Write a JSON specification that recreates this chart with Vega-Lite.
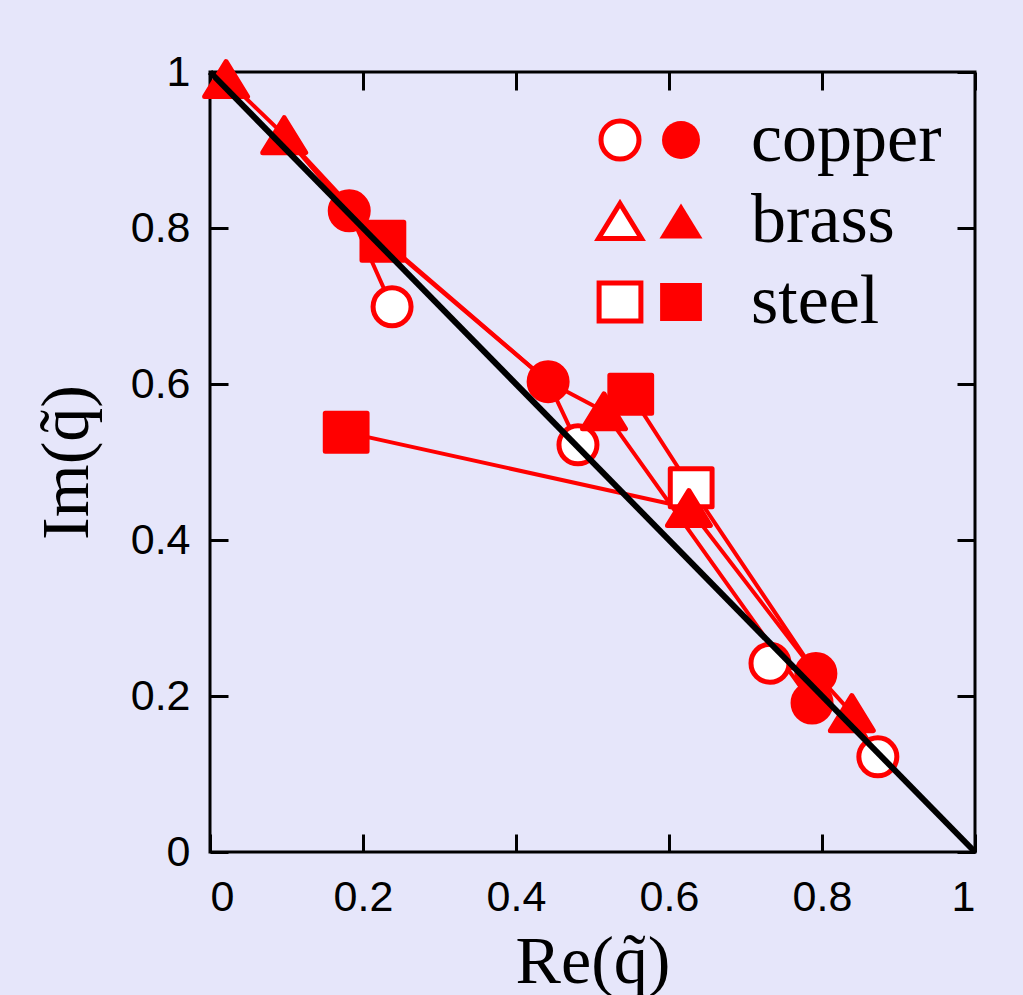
{
  "$schema": "https://vega.github.io/schema/vega-lite/v6.json",
  "width": 765,
  "height": 780,
  "autosize": {"type": "none"},
  "padding": {"left": 210, "top": 72, "right": 48, "bottom": 143},
  "background": "#e6e6fa",
  "config": {
    "view": {"stroke": "black", "strokeWidth": 3},
    "axis": {
      "domain": false,
      "grid": false,
      "tickColor": "black",
      "tickWidth": 3,
      "tickSize": -18,
      "labelFont": "Liberation Sans",
      "labelFontSize": 43,
      "labelColor": "black",
      "titleFont": "Liberation Serif",
      "titleFontSize": 68,
      "titleFontWeight": "normal",
      "titleColor": "black"
    },
    "legend": {
      "orient": "none",
      "title": null,
      "padding": 0,
      "rowPadding": 11,
      "symbolSize": 1444,
      "symbolStrokeWidth": 5,
      "labelFont": "Liberation Serif",
      "labelFontSize": 70,
      "labelColor": "black",
      "labelLimit": 400
    }
  },
  "datasets": {
    "points": [
      {"material": "copper", "kind": "filled", "x": 0.182, "y": 0.822},
      {"material": "copper", "kind": "filled", "x": 0.442, "y": 0.603},
      {"material": "copper", "kind": "filled", "x": 0.792, "y": 0.229},
      {"material": "copper", "kind": "filled", "x": 0.787, "y": 0.191},
      {"material": "copper", "kind": "open", "x": 0.238, "y": 0.699},
      {"material": "copper", "kind": "open", "x": 0.481, "y": 0.522},
      {"material": "copper", "kind": "open", "x": 0.732, "y": 0.242},
      {"material": "copper", "kind": "open", "x": 0.873, "y": 0.122},
      {"material": "brass", "kind": "filled", "x": 0.021, "y": 0.991},
      {"material": "brass", "kind": "filled", "x": 0.097, "y": 0.919},
      {"material": "brass", "kind": "filled", "x": 0.515, "y": 0.565},
      {"material": "brass", "kind": "filled", "x": 0.626, "y": 0.441},
      {"material": "brass", "kind": "filled", "x": 0.839, "y": 0.178},
      {"material": "steel", "kind": "filled", "x": 0.178, "y": 0.538},
      {"material": "steel", "kind": "filled", "x": 0.226, "y": 0.783},
      {"material": "steel", "kind": "filled", "x": 0.55, "y": 0.587},
      {"material": "steel", "kind": "open", "x": 0.629, "y": 0.467}
    ],
    "paths": [
      {"path": 1, "ord": 1, "x": 0.021, "y": 0.991},
      {"path": 1, "ord": 2, "x": 0.097, "y": 0.919},
      {"path": 1, "ord": 3, "x": 0.182, "y": 0.822},
      {"path": 1, "ord": 4, "x": 0.238, "y": 0.699},
      {"path": 2, "ord": 1, "x": 0.097, "y": 0.919},
      {"path": 2, "ord": 2, "x": 0.226, "y": 0.783},
      {"path": 2, "ord": 3, "x": 0.442, "y": 0.603},
      {"path": 2, "ord": 4, "x": 0.515, "y": 0.565},
      {"path": 2, "ord": 5, "x": 0.55, "y": 0.587},
      {"path": 2, "ord": 6, "x": 0.629, "y": 0.467},
      {"path": 2, "ord": 7, "x": 0.792, "y": 0.229},
      {"path": 2, "ord": 8, "x": 0.839, "y": 0.178},
      {"path": 2, "ord": 9, "x": 0.873, "y": 0.122},
      {"path": 3, "ord": 1, "x": 0.182, "y": 0.822},
      {"path": 3, "ord": 2, "x": 0.442, "y": 0.603},
      {"path": 3, "ord": 3, "x": 0.481, "y": 0.522},
      {"path": 4, "ord": 1, "x": 0.515, "y": 0.565},
      {"path": 4, "ord": 2, "x": 0.787, "y": 0.191},
      {"path": 5, "ord": 1, "x": 0.178, "y": 0.538},
      {"path": 5, "ord": 2, "x": 0.626, "y": 0.441},
      {"path": 5, "ord": 3, "x": 0.792, "y": 0.229},
      {"path": 6, "ord": 1, "x": 0.732, "y": 0.242},
      {"path": 6, "ord": 2, "x": 0.792, "y": 0.229}
    ],
    "diag": [
      {"x": 0, "y": 1},
      {"x": 1, "y": 0}
    ]
  },
  "resolve": {
    "scale": {"shape": "independent", "stroke": "independent"},
    "legend": {"shape": "independent", "stroke": "independent"},
    "axis": {"x": "independent", "y": "independent"}
  },
  "layer": [
    {
      "data": {"name": "paths"},
      "mark": {"type": "line", "color": "red", "strokeWidth": 4, "strokeJoin": "round", "strokeCap": "round"},
      "encoding": {
        "x": {
          "field": "x", "type": "quantitative",
          "scale": {"domain": [0, 1], "nice": false, "zero": false},
          "axis": {"orient": "bottom", "values": [0, 0.2, 0.4, 0.6, 0.8, 1], "format": "~g", "labelPadding": 42, "title": "Re(q\u0303)", "titlePadding": 9}
        },
        "y": {
          "field": "y", "type": "quantitative",
          "scale": {"domain": [0, 1], "nice": false, "zero": false},
          "axis": {"orient": "left", "values": [0, 0.2, 0.4, 0.6, 0.8, 1], "format": "~g", "labelPadding": 38, "title": "Im(q\u0303)", "titlePadding": 29}
        },
        "detail": {"field": "path", "type": "nominal"},
        "order": {"field": "ord", "type": "quantitative"}
      }
    },
    {
      "data": {"name": "points"},
      "transform": [{"filter": "datum.kind === 'open'"}],
      "mark": {"type": "point", "filled": false, "fill": "white", "strokeWidth": 5, "size": 1444, "strokeJoin": "round", "opacity": 1},
      "encoding": {
        "x": {"field": "x", "type": "quantitative", "scale": {"domain": [0, 1], "nice": false, "zero": false}, "axis": null},
        "y": {"field": "y", "type": "quantitative", "scale": {"domain": [0, 1], "nice": false, "zero": false}, "axis": null},
        "stroke": {
          "field": "material", "type": "nominal",
          "scale": {"domain": ["copper", "brass", "steel"], "range": ["red", "red", "red"]},
          "legend": {
            "legendX": 375, "legendY": 33,
            "labelExpr": "' '",
            "labelOffset": 0,
            "encode": {"symbols": {"update": {"strokeJoin": {"value": "round"}, "fill": {"value": "white"}}}}
          }
        },
        "shape": {
          "field": "material", "type": "nominal",
          "scale": {"domain": ["copper", "brass", "steel"], "range": ["circle", "M0,-0.92L1.13,0.92L-1.13,0.92Z", "M-1.1,-1L1.1,-1L1.1,1L-1.1,1Z"]},
          "legend": {
            "legendX": 375, "legendY": 33,
            "labelExpr": "' '",
            "labelOffset": 0,
            "encode": {"symbols": {"update": {"strokeJoin": {"value": "round"}, "fill": {"value": "white"}}}}
          }
        }
      }
    },
    {
      "data": {"name": "points"},
      "transform": [{"filter": "datum.kind === 'filled'"}],
      "mark": {"type": "point", "filled": true, "fill": "red", "stroke": "red", "strokeWidth": 5, "size": 1444, "strokeJoin": "round", "opacity": 1},
      "encoding": {
        "x": {"field": "x", "type": "quantitative", "scale": {"domain": [0, 1], "nice": false, "zero": false}, "axis": null},
        "y": {"field": "y", "type": "quantitative", "scale": {"domain": [0, 1], "nice": false, "zero": false}, "axis": null},
        "shape": {
          "field": "material", "type": "nominal",
          "scale": {"domain": ["copper", "brass", "steel"], "range": ["circle", "M0,-0.92L1.13,0.92L-1.13,0.92Z", "M-1.1,-1L1.1,-1L1.1,1L-1.1,1Z"]},
          "legend": {
            "legendX": 436, "legendY": 33,
            "labelOffset": 35,
            "symbolFillColor": "red",
            "symbolStrokeColor": "red",
            "encode": {"symbols": {"update": {"strokeJoin": {"value": "round"}, "fill": {"value": "red"}, "stroke": {"value": "red"}, "strokeWidth": {"value": 5}, "opacity": {"value": 1}}}}
          }
        }
      }
    },
    {
      "data": {"name": "diag"},
      "mark": {"type": "line", "color": "black", "strokeWidth": 6, "strokeCap": "butt"},
      "encoding": {
        "x": {
          "field": "x", "type": "quantitative",
          "scale": {"domain": [0, 1], "nice": false, "zero": false},
          "axis": {"orient": "top", "values": [0, 0.2, 0.4, 0.6, 0.8, 1], "labels": false, "title": null}
        },
        "y": {
          "field": "y", "type": "quantitative",
          "scale": {"domain": [0, 1], "nice": false, "zero": false},
          "axis": {"orient": "right", "values": [0, 0.2, 0.4, 0.6, 0.8, 1], "labels": false, "title": null}
        }
      }
    }
  ]
}
